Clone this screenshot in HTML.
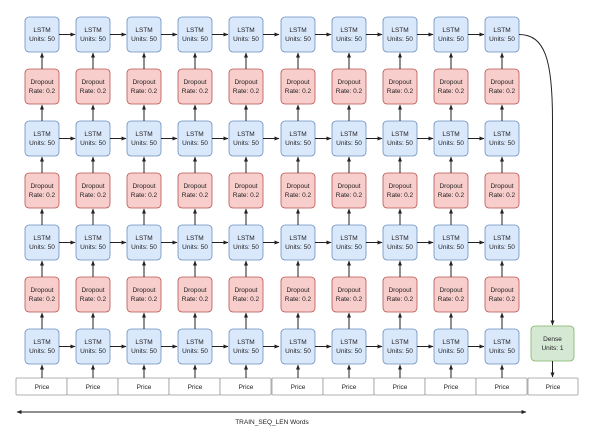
<!DOCTYPE html>
<html><head><meta charset="utf-8"><style>
html,body{margin:0;padding:0;background:#fff;}
svg{display:block;font-family:"Liberation Sans",sans-serif;}
.l{fill:#dae8fc;stroke:#6c8ebf;stroke-width:0.8}
.d{fill:#f8cecc;stroke:#b85450;stroke-width:0.8}
.p{fill:#fff;stroke:#999;stroke-width:0.8}
text{font-size:6.5px;fill:#222;text-anchor:middle}
path{stroke:#222;stroke-width:1;fill:none}
.a{marker-end:url(#m)}
</style></head><body>
<svg width="590" height="430" viewBox="0 0 590 430" xmlns="http://www.w3.org/2000/svg">
<defs>
<marker id="m" viewBox="0 0 10 10" refX="9" refY="5" markerWidth="5" markerHeight="5" orient="auto" markerUnits="userSpaceOnUse"><path d="M0,1 L10,5 L0,9 z" style="fill:#222;stroke:none"/></marker>
<marker id="ms" viewBox="0 0 10 10" refX="1" refY="5" markerWidth="5" markerHeight="5" orient="auto" markerUnits="userSpaceOnUse"><path d="M10,1 L0,5 L10,9 z" style="fill:#222;stroke:none"/></marker>
<g id="va">
<path class="a" d="M17,69V53"/><path class="a" d="M17,121V105"/><path class="a" d="M17,173V157"/><path class="a" d="M17,225V209"/><path class="a" d="M17,277V261"/><path class="a" d="M17,329V313"/><path class="a" d="M17,378V365"/>
</g>
<g id="ha">
<path class="a" d="M34,34.5H50"/><path class="a" d="M34,138.5H50"/><path class="a" d="M34,242.5H50"/><path class="a" d="M34,346.5H50"/>
</g>
</defs>

<g transform="translate(25,0)">
<rect class="l" x="0" y="17" width="34" height="35" rx="4"/><text x="17" y="32">LSTM</text><text x="17" y="41">Units: 50</text>
<rect class="d" x="0" y="69" width="34" height="35" rx="4"/><text x="17" y="84">Dropout</text><text x="17" y="93">Rate: 0.2</text>
<rect class="l" x="0" y="121" width="34" height="35" rx="4"/><text x="17" y="136">LSTM</text><text x="17" y="145">Units: 50</text>
<rect class="d" x="0" y="173" width="34" height="35" rx="4"/><text x="17" y="188">Dropout</text><text x="17" y="197">Rate: 0.2</text>
<rect class="l" x="0" y="225" width="34" height="35" rx="4"/><text x="17" y="240">LSTM</text><text x="17" y="249">Units: 50</text>
<rect class="d" x="0" y="277" width="34" height="35" rx="4"/><text x="17" y="292">Dropout</text><text x="17" y="301">Rate: 0.2</text>
<rect class="l" x="0" y="329" width="34" height="35" rx="4"/><text x="17" y="344">LSTM</text><text x="17" y="353">Units: 50</text>
<rect class="p" x="-9" y="378" width="51" height="17" rx="1"/><text x="17" y="389">Price</text>
<use href="#va"/><use href="#ha"/>
</g>
<g transform="translate(76,0)">
<rect class="l" x="0" y="17" width="34" height="35" rx="4"/><text x="17" y="32">LSTM</text><text x="17" y="41">Units: 50</text>
<rect class="d" x="0" y="69" width="34" height="35" rx="4"/><text x="17" y="84">Dropout</text><text x="17" y="93">Rate: 0.2</text>
<rect class="l" x="0" y="121" width="34" height="35" rx="4"/><text x="17" y="136">LSTM</text><text x="17" y="145">Units: 50</text>
<rect class="d" x="0" y="173" width="34" height="35" rx="4"/><text x="17" y="188">Dropout</text><text x="17" y="197">Rate: 0.2</text>
<rect class="l" x="0" y="225" width="34" height="35" rx="4"/><text x="17" y="240">LSTM</text><text x="17" y="249">Units: 50</text>
<rect class="d" x="0" y="277" width="34" height="35" rx="4"/><text x="17" y="292">Dropout</text><text x="17" y="301">Rate: 0.2</text>
<rect class="l" x="0" y="329" width="34" height="35" rx="4"/><text x="17" y="344">LSTM</text><text x="17" y="353">Units: 50</text>
<rect class="p" x="-9" y="378" width="51" height="17" rx="1"/><text x="17" y="389">Price</text>
<use href="#va"/><use href="#ha"/>
</g>
<g transform="translate(127,0)">
<rect class="l" x="0" y="17" width="34" height="35" rx="4"/><text x="17" y="32">LSTM</text><text x="17" y="41">Units: 50</text>
<rect class="d" x="0" y="69" width="34" height="35" rx="4"/><text x="17" y="84">Dropout</text><text x="17" y="93">Rate: 0.2</text>
<rect class="l" x="0" y="121" width="34" height="35" rx="4"/><text x="17" y="136">LSTM</text><text x="17" y="145">Units: 50</text>
<rect class="d" x="0" y="173" width="34" height="35" rx="4"/><text x="17" y="188">Dropout</text><text x="17" y="197">Rate: 0.2</text>
<rect class="l" x="0" y="225" width="34" height="35" rx="4"/><text x="17" y="240">LSTM</text><text x="17" y="249">Units: 50</text>
<rect class="d" x="0" y="277" width="34" height="35" rx="4"/><text x="17" y="292">Dropout</text><text x="17" y="301">Rate: 0.2</text>
<rect class="l" x="0" y="329" width="34" height="35" rx="4"/><text x="17" y="344">LSTM</text><text x="17" y="353">Units: 50</text>
<rect class="p" x="-9" y="378" width="51" height="17" rx="1"/><text x="17" y="389">Price</text>
<use href="#va"/><use href="#ha"/>
</g>
<g transform="translate(178,0)">
<rect class="l" x="0" y="17" width="34" height="35" rx="4"/><text x="17" y="32">LSTM</text><text x="17" y="41">Units: 50</text>
<rect class="d" x="0" y="69" width="34" height="35" rx="4"/><text x="17" y="84">Dropout</text><text x="17" y="93">Rate: 0.2</text>
<rect class="l" x="0" y="121" width="34" height="35" rx="4"/><text x="17" y="136">LSTM</text><text x="17" y="145">Units: 50</text>
<rect class="d" x="0" y="173" width="34" height="35" rx="4"/><text x="17" y="188">Dropout</text><text x="17" y="197">Rate: 0.2</text>
<rect class="l" x="0" y="225" width="34" height="35" rx="4"/><text x="17" y="240">LSTM</text><text x="17" y="249">Units: 50</text>
<rect class="d" x="0" y="277" width="34" height="35" rx="4"/><text x="17" y="292">Dropout</text><text x="17" y="301">Rate: 0.2</text>
<rect class="l" x="0" y="329" width="34" height="35" rx="4"/><text x="17" y="344">LSTM</text><text x="17" y="353">Units: 50</text>
<rect class="p" x="-9" y="378" width="51" height="17" rx="1"/><text x="17" y="389">Price</text>
<use href="#va"/><use href="#ha"/>
</g>
<g transform="translate(229,0)">
<rect class="l" x="0" y="17" width="34" height="35" rx="4"/><text x="17" y="32">LSTM</text><text x="17" y="41">Units: 50</text>
<rect class="d" x="0" y="69" width="34" height="35" rx="4"/><text x="17" y="84">Dropout</text><text x="17" y="93">Rate: 0.2</text>
<rect class="l" x="0" y="121" width="34" height="35" rx="4"/><text x="17" y="136">LSTM</text><text x="17" y="145">Units: 50</text>
<rect class="d" x="0" y="173" width="34" height="35" rx="4"/><text x="17" y="188">Dropout</text><text x="17" y="197">Rate: 0.2</text>
<rect class="l" x="0" y="225" width="34" height="35" rx="4"/><text x="17" y="240">LSTM</text><text x="17" y="249">Units: 50</text>
<rect class="d" x="0" y="277" width="34" height="35" rx="4"/><text x="17" y="292">Dropout</text><text x="17" y="301">Rate: 0.2</text>
<rect class="l" x="0" y="329" width="34" height="35" rx="4"/><text x="17" y="344">LSTM</text><text x="17" y="353">Units: 50</text>
<rect class="p" x="-9" y="378" width="51" height="17" rx="1"/><text x="17" y="389">Price</text>
<use href="#va"/><use href="#ha"/>
</g>
<g transform="translate(281,0)">
<rect class="l" x="0" y="17" width="34" height="35" rx="4"/><text x="17" y="32">LSTM</text><text x="17" y="41">Units: 50</text>
<rect class="d" x="0" y="69" width="34" height="35" rx="4"/><text x="17" y="84">Dropout</text><text x="17" y="93">Rate: 0.2</text>
<rect class="l" x="0" y="121" width="34" height="35" rx="4"/><text x="17" y="136">LSTM</text><text x="17" y="145">Units: 50</text>
<rect class="d" x="0" y="173" width="34" height="35" rx="4"/><text x="17" y="188">Dropout</text><text x="17" y="197">Rate: 0.2</text>
<rect class="l" x="0" y="225" width="34" height="35" rx="4"/><text x="17" y="240">LSTM</text><text x="17" y="249">Units: 50</text>
<rect class="d" x="0" y="277" width="34" height="35" rx="4"/><text x="17" y="292">Dropout</text><text x="17" y="301">Rate: 0.2</text>
<rect class="l" x="0" y="329" width="34" height="35" rx="4"/><text x="17" y="344">LSTM</text><text x="17" y="353">Units: 50</text>
<rect class="p" x="-9" y="378" width="51" height="17" rx="1"/><text x="17" y="389">Price</text>
<use href="#va"/><use href="#ha"/>
</g>
<g transform="translate(332,0)">
<rect class="l" x="0" y="17" width="34" height="35" rx="4"/><text x="17" y="32">LSTM</text><text x="17" y="41">Units: 50</text>
<rect class="d" x="0" y="69" width="34" height="35" rx="4"/><text x="17" y="84">Dropout</text><text x="17" y="93">Rate: 0.2</text>
<rect class="l" x="0" y="121" width="34" height="35" rx="4"/><text x="17" y="136">LSTM</text><text x="17" y="145">Units: 50</text>
<rect class="d" x="0" y="173" width="34" height="35" rx="4"/><text x="17" y="188">Dropout</text><text x="17" y="197">Rate: 0.2</text>
<rect class="l" x="0" y="225" width="34" height="35" rx="4"/><text x="17" y="240">LSTM</text><text x="17" y="249">Units: 50</text>
<rect class="d" x="0" y="277" width="34" height="35" rx="4"/><text x="17" y="292">Dropout</text><text x="17" y="301">Rate: 0.2</text>
<rect class="l" x="0" y="329" width="34" height="35" rx="4"/><text x="17" y="344">LSTM</text><text x="17" y="353">Units: 50</text>
<rect class="p" x="-9" y="378" width="51" height="17" rx="1"/><text x="17" y="389">Price</text>
<use href="#va"/><use href="#ha"/>
</g>
<g transform="translate(383,0)">
<rect class="l" x="0" y="17" width="34" height="35" rx="4"/><text x="17" y="32">LSTM</text><text x="17" y="41">Units: 50</text>
<rect class="d" x="0" y="69" width="34" height="35" rx="4"/><text x="17" y="84">Dropout</text><text x="17" y="93">Rate: 0.2</text>
<rect class="l" x="0" y="121" width="34" height="35" rx="4"/><text x="17" y="136">LSTM</text><text x="17" y="145">Units: 50</text>
<rect class="d" x="0" y="173" width="34" height="35" rx="4"/><text x="17" y="188">Dropout</text><text x="17" y="197">Rate: 0.2</text>
<rect class="l" x="0" y="225" width="34" height="35" rx="4"/><text x="17" y="240">LSTM</text><text x="17" y="249">Units: 50</text>
<rect class="d" x="0" y="277" width="34" height="35" rx="4"/><text x="17" y="292">Dropout</text><text x="17" y="301">Rate: 0.2</text>
<rect class="l" x="0" y="329" width="34" height="35" rx="4"/><text x="17" y="344">LSTM</text><text x="17" y="353">Units: 50</text>
<rect class="p" x="-9" y="378" width="51" height="17" rx="1"/><text x="17" y="389">Price</text>
<use href="#va"/><use href="#ha"/>
</g>
<g transform="translate(434,0)">
<rect class="l" x="0" y="17" width="34" height="35" rx="4"/><text x="17" y="32">LSTM</text><text x="17" y="41">Units: 50</text>
<rect class="d" x="0" y="69" width="34" height="35" rx="4"/><text x="17" y="84">Dropout</text><text x="17" y="93">Rate: 0.2</text>
<rect class="l" x="0" y="121" width="34" height="35" rx="4"/><text x="17" y="136">LSTM</text><text x="17" y="145">Units: 50</text>
<rect class="d" x="0" y="173" width="34" height="35" rx="4"/><text x="17" y="188">Dropout</text><text x="17" y="197">Rate: 0.2</text>
<rect class="l" x="0" y="225" width="34" height="35" rx="4"/><text x="17" y="240">LSTM</text><text x="17" y="249">Units: 50</text>
<rect class="d" x="0" y="277" width="34" height="35" rx="4"/><text x="17" y="292">Dropout</text><text x="17" y="301">Rate: 0.2</text>
<rect class="l" x="0" y="329" width="34" height="35" rx="4"/><text x="17" y="344">LSTM</text><text x="17" y="353">Units: 50</text>
<rect class="p" x="-9" y="378" width="51" height="17" rx="1"/><text x="17" y="389">Price</text>
<use href="#va"/><use href="#ha"/>
</g>
<g transform="translate(485,0)">
<rect class="l" x="0" y="17" width="34" height="35" rx="4"/><text x="17" y="32">LSTM</text><text x="17" y="41">Units: 50</text>
<rect class="d" x="0" y="69" width="34" height="35" rx="4"/><text x="17" y="84">Dropout</text><text x="17" y="93">Rate: 0.2</text>
<rect class="l" x="0" y="121" width="34" height="35" rx="4"/><text x="17" y="136">LSTM</text><text x="17" y="145">Units: 50</text>
<rect class="d" x="0" y="173" width="34" height="35" rx="4"/><text x="17" y="188">Dropout</text><text x="17" y="197">Rate: 0.2</text>
<rect class="l" x="0" y="225" width="34" height="35" rx="4"/><text x="17" y="240">LSTM</text><text x="17" y="249">Units: 50</text>
<rect class="d" x="0" y="277" width="34" height="35" rx="4"/><text x="17" y="292">Dropout</text><text x="17" y="301">Rate: 0.2</text>
<rect class="l" x="0" y="329" width="34" height="35" rx="4"/><text x="17" y="344">LSTM</text><text x="17" y="353">Units: 50</text>
<rect class="p" x="-9" y="378" width="51" height="17" rx="1"/><text x="17" y="389">Price</text>
<use href="#va"/>
</g>

<rect x="531" y="326" width="43" height="35" rx="4" fill="#d5e8d4" stroke="#82b366" stroke-width="0.8"/>
<text x="552.5" y="341" fill="#444">Dense</text><text x="552.5" y="350" fill="#444">Units: 1</text>
<rect class="p" x="528" y="378" width="50" height="17" rx="1"/><text x="553" y="389">Price</text>
<path class="a" d="M552.5,361V377"/>
<path class="a" d="M519,34.5C545,34.5 552.5,60 552.5,120V325"/>

<path d="M17,412H526" marker-start="url(#ms)" marker-end="url(#m)"/>
<text x="272" y="424">TRAIN_SEQ_LEN Words</text>
</svg>
</body></html>
